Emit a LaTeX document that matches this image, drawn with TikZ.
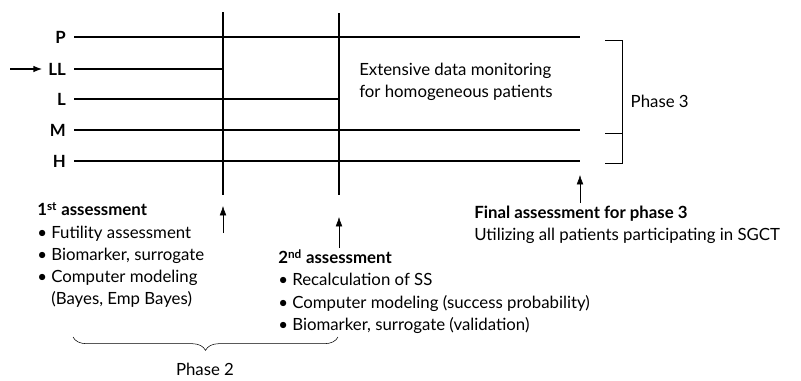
\documentclass[tikz,border=0pt]{standalone}
\usepackage{fontspec}
\setmainfont{Lato}
\usetikzlibrary{decorations.pathreplacing,arrows.meta}

\begin{document}
\begin{tikzpicture}[x=0.75pt,y=-0.75pt,>={Latex[length=7pt,width=5pt]},
  font=\fontsize{12.6}{16.6}\selectfont,
  arm/.style={line width=0.8pt},
  notes/.style={anchor=north west,align=left,inner sep=0pt}]
\useasboundingbox (0,0) rectangle (801,380);

% dose arms
\foreach \name/\lab/\y/\xe in {p/P/37/580,ll/LL/69/223,l/L/99/339,m/M/130/580,h/H/161/580}{
  \node[anchor=east,inner sep=0pt] (\name) at (66,\y) {\textbf{\lab}};
  \coordinate (\name end) at (\xe,\y);
  \draw[arm] (\name.east) ++(8,0) -- (\name end);
}

% entry arrow
\coordinate (entry) at (10,69);
\draw[->,line width=1.4pt] (entry) -- ([xshift=-4pt]ll.west);

% interim looks
\coordinate (look1 top) at (223,12);
\coordinate (look1 bot) at (223,195);
\coordinate (look2 top) at (339,13);
\coordinate (look2 bot) at (339,195);
\draw[arm] (look1 top) -- (look1 bot);
\draw[arm] (look2 top) -- (look2 bot);

% phase 3 bracket
\draw (605,40) -- (622,40) -- (622,163) -- (605,163);
\draw (605,133) -- (622,133);
\node[anchor=west] (phase3) at (626,101) {Phase 3};

\node[notes] (monitor) at (359,63) {Extensive data monitoring\\for homogeneous patients};

% assessments
\coordinate (a1 tail) at (223,233);
\coordinate (a1 tip) at (223,206);
\draw[->] (a1 tail) -- (a1 tip);
\coordinate (a2 tail) at (339,248);
\coordinate (a2 tip) at (339,217);
\draw[->] (a2 tail) -- (a2 tip);
\coordinate (a3 tail) at (580,203);
\coordinate (a3 tip) at (580,175);
\draw[->] (a3 tail) -- (a3 tip);

\node[notes] (first) at (37,202) {\textbf{1\textsuperscript{st} assessment}\\
  \textbullet\ Futility assessment\\
  \textbullet\ Biomarker, surrogate\\
  \textbullet\ Computer modeling\\
  \phantom{\textbullet\ }(Bayes, Emp Bayes)};
\node[notes] (second) at (278,249) {\textbf{2\textsuperscript{nd} assessment}\\
  \textbullet\ Recalculation of SS\\
  \textbullet\ Computer modeling (success probability)\\
  \textbullet\ Biomarker, surrogate (validation)};
\node[notes] (final) at (474,206) {\textbf{Final assessment for phase 3}\\
  Utilizing all patients participating in SGCT};

% phase 2 brace
\coordinate (b1) at (73,337);
\coordinate (b2) at (338,337);
\draw[decorate,decoration={brace,mirror,amplitude=10pt}] (b1) -- (b2);
\node (phase2) at (205,369) {Phase 2};
\end{tikzpicture}
\end{document}
